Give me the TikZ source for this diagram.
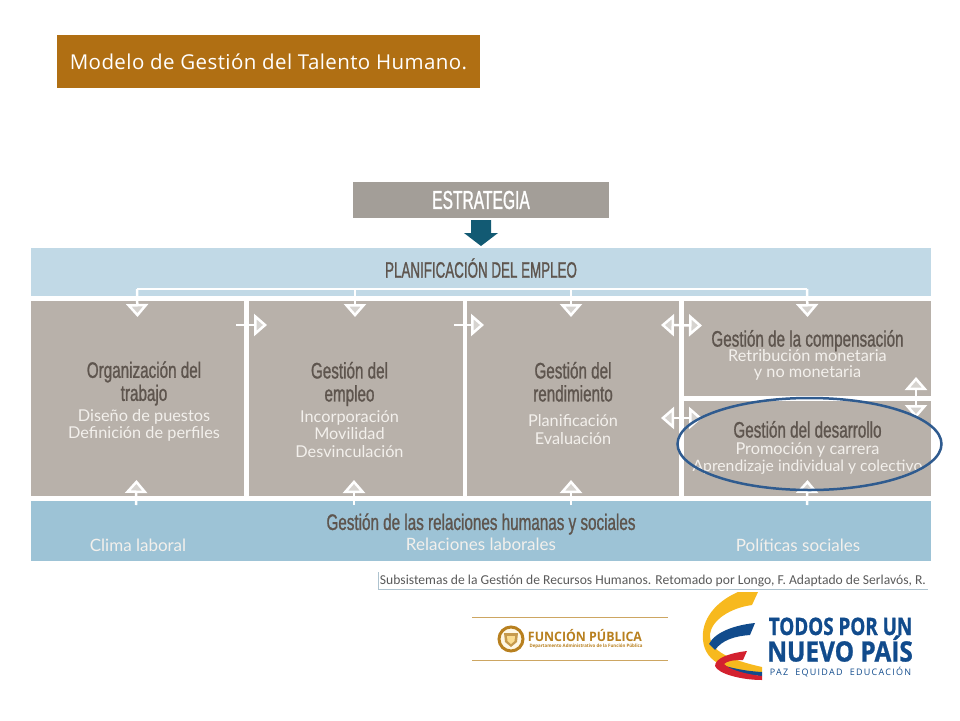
\documentclass[tikz,border=0pt]{standalone}
\usepackage{fontspec}
\usepackage{xcolor}
\usetikzlibrary{shapes.geometric, arrows.meta, positioning}
\newfontfamily\headfont[FakeStretch=0.68,FakeBold=1]{Liberation Sans}
\newfontfamily\capsfont[FakeStretch=0.6,FakeBold=1]{Liberation Sans}
\newfontfamily\bodyfont{Lato}
\newfontfamily\titlefont[LetterSpace=2]{Open Sans}
\newfontfamily\notefont{Carlito}
\newfontfamily\todosfont[FakeStretch=0.785,BoldFeatures={FakeBold=1}]{Open Sans}
\newfontfamily\nuevofont[FakeStretch=0.87,BoldFeatures={FakeBold=1}]{Open Sans}
\newfontfamily\funcfont[FakeStretch=0.95]{Open Sans}
\newfontfamily\sublogofont[LetterSpace=14]{Open Sans}
\newcommand{\headtext}[1]{\smash{\textcolor{headgrey}{\headfont\fontsize{22.4}{25}\selectfont #1}}}
\definecolor{titlebrown}{HTML}{B06F13}
\definecolor{strategygrey}{HTML}{A39E98}
\definecolor{boxgrey}{HTML}{B8B1AA}
\definecolor{planblue}{HTML}{C1D9E6}
\definecolor{relblue}{HTML}{9DC3D6}
\definecolor{headgrey}{HTML}{5E554E}
\definecolor{bodywhite}{HTML}{F3F0EC}
\definecolor{arrowteal}{HTML}{125A73}
\definecolor{tipgrey}{HTML}{D6D3CF}
\definecolor{ringblue}{HTML}{2F5B8F}
\definecolor{logoblue}{HTML}{114B8C}
\definecolor{logogold}{HTML}{B8801F}
\definecolor{logoyellow}{HTML}{F7B91E}
\definecolor{logored}{HTML}{D3212F}

\begin{document}
\begin{tikzpicture}[x=1pt, y=-1pt, node distance=5pt, outer sep=0pt]
	\tikzstyle{titlebox} = [rectangle, fill=titlebrown, text=white, minimum width=423pt, minimum height=53pt, font=\titlefont\fontsize{20.5}{22}\selectfont]
	\tikzstyle{strategybox} = [rectangle, fill=strategygrey, text=white, minimum width=256pt, minimum height=36pt]
	\tikzstyle{bandbox} = [rectangle, minimum width=900pt, align=center, inner sep=0pt]
	\tikzstyle{greybox} = [rectangle, fill=boxgrey, inner sep=0pt, minimum height=195pt]
	\tikzstyle{sidebox} = [greybox, minimum width=247pt, minimum height=95pt]
	\tikzstyle{boxtext} = [text=bodywhite, align=center, inner sep=0pt, font=\bodyfont\fontsize{16.3}{17.5}\selectfont]
	\tikzstyle{bandlabel} = [text=bodywhite, align=center, inner sep=0pt, font=\bodyfont\fontsize{17}{19}\selectfont]
	\tikzstyle{flowline} = [white, line width=2.5pt]
	\tikzstyle{flowtip} = [flowline, -{Triangle[width=22pt,length=13pt,fill=tipgrey,line width=2.5pt]}]
	\tikzstyle{flowboth} = [flowline, {Triangle[width=22pt,length=13pt,fill=tipgrey,line width=2.5pt]}-{Triangle[width=22pt,length=13pt,fill=tipgrey,line width=2.5pt]}]

	\useasboundingbox (0,0) rectangle (960,720);

	% Nodes
	\node (title) [titlebox] at (268.5,61.5) {Modelo de Gestión del Talento Humano.};
	\node (estrategia) [strategybox] at (481,200) {\capsfont\fontsize{26}{28}\selectfont ESTRATEGIA};
	\node (plan) [bandbox, fill=planblue, minimum height=48pt, text=headgrey] at (481,272) {\raisebox{8pt}{\capsfont\fontsize{22.3}{24}\selectfont PLANIFICACIÓN DEL EMPLEO}};

	\node (org) [greybox, minimum width=213pt, below=5pt of plan.south west, anchor=north west] {};
	\node (empleo) [greybox, minimum width=214pt, right=5pt of org] {};
	\node (rend) [greybox, minimum width=212pt, right=4pt of empleo] {};
	\node (comp) [sidebox, right=5pt of rend.north east, anchor=north west] {};
	\node (des) [sidebox, below=5pt of comp] {};
	\node (rel) [bandbox, fill=relblue, minimum height=60pt, below=5pt of org.south west, anchor=north west] {};

	% Box texts
	\node (orgtext) [boxtext] at ([shift={(6.5pt,-11.25pt)}]org.center) {\headtext{Organización del}\\[5.5pt] \headtext{trabajo}\\[3.5pt] Diseño de puestos\\[-0.5pt] Definición de perfiles};
	\node (emptext) [boxtext] at ([shift={(-6.5pt,-19.5pt)}]empleo.center) {\headtext{Gestión del}\\[5.5pt] \headtext{empleo}\\[3.5pt] Incorporación\\ Movilidad\\ Desvinculación};
	\node (rendtext) [boxtext] at ([yshift=-13pt]rend.center) {\headtext{Gestión del}\\[5.5pt] \headtext{rendimiento}\\[8pt] Planificación\\ Evaluación};
	\node (comptext) [boxtext] at ([yshift=-15pt]comp.center) {\headtext{Gestión de la compensación}\\[-2.5pt] Retribución monetaria\\[-1.5pt] y no monetaria};
	\node (destext) [boxtext] at ([yshift=-7.5pt]des.center) {\headtext{Gestión del desarrollo}\\[-0.5pt] Promoción y carrera\\[-0.5pt] {\fontsize{15.7}{17.5}\selectfont Aprendizaje individual y colectivo}};
	\node (reltext) [bandlabel] at ([yshift=-9.5pt]rel.center) {\headtext{Gestión de las relaciones humanas y sociales}\\[2pt] Relaciones laborales};
	\node (clima) [bandlabel] at (138,545) {Clima laboral};
	\node (politicas) [bandlabel] at (798,545) {Políticas sociales};

	\node (note) [font=\notefont\fontsize{13.6}{15}\selectfont, text=black!65, minimum width=550pt, minimum height=17pt, inner sep=0pt] at (653,580.5) {Subsistemas de la Gestión de Recursos Humanos. Retomado por Longo, F. Adaptado de Serlavós, R.};
	\draw [planblue!90!black] (note.north west) |- (note.south east);

	% Arrows
	\fill [arrowteal] ([xshift=-10pt,yshift=-2pt]estrategia.south) -- ([xshift=10pt,yshift=-2pt]estrategia.south) -- ([xshift=10pt,yshift=15pt]plan.north) -- ([xshift=17pt,yshift=15pt]plan.north) -- ([yshift=2pt]plan.north) -- ([xshift=-17pt,yshift=15pt]plan.north) -- ([xshift=-10pt,yshift=15pt]plan.north) -- cycle;

	\coordinate (busorg) at (137,289);
	\coordinate (busemp) at (355,289);
	\coordinate (busrend) at (571,289);
	\coordinate (buscomp) at (807,289);
	\draw [flowline] (busorg) -- (buscomp);
	\draw [flowtip] (busorg) -- ([yshift=-16pt]org.north);
	\draw [flowtip] (busemp) -- ([xshift=-1pt,yshift=-16pt]empleo.north);
	\draw [flowtip] (busrend) -- ([xshift=-2pt,yshift=-16pt]rend.north);
	\draw [flowtip] (buscomp) -- ([yshift=-16pt]comp.north);

	\draw [flowtip] ([shift={(-8pt,73.5pt)}]org.east) -- ([shift={(18pt,73.5pt)}]empleo.west);
	\draw [flowtip] ([shift={(-9pt,73.5pt)}]empleo.east) -- ([shift={(17pt,73.5pt)}]rend.west);
	\draw [flowboth] ([shift={(-18pt,73.5pt)}]rend.east) -- ([shift={(18pt,23pt)}]comp.west);
	\draw [flowboth] ([shift={(-18pt,-19.5pt)}]rend.east) -- ([xshift=18pt,yshift=30.5pt]des.west);
	\draw [flowboth] ([shift={(108.5pt,19pt)}]comp.south) -- ([shift={(108.5pt,-17pt)}]des.north);

	\coordinate (relorg) at (136,505);
	\coordinate (relemp) at (354,505);
	\coordinate (relrend) at (571,505);
	\coordinate (reldes) at (807,505);
	\draw [flowtip] (relorg) -- ([xshift=-1pt,yshift=16pt]org.south);
	\draw [flowtip] (relemp) -- ([xshift=-2pt,yshift=16pt]empleo.south);
	\draw [flowtip] (relrend) -- ([xshift=-2pt,yshift=16pt]rend.south);
	\draw [flowtip] (reldes) -- ([yshift=16pt]des.south);

	% Highlight
	\node (ring) [ellipse, draw=ringblue, line width=2.5pt, minimum width=264pt, minimum height=92pt, inner sep=0pt] at (809.5,444) {};

	% Logo Funcion Publica
	\draw [logogold!70] (472,617) -- (668,617);
	\draw [logogold!70] (472,660) -- (668,660);
	\node (seal) [circle, draw=logogold, line width=3pt, fill=logoyellow!12, minimum size=24pt, inner sep=0pt] at (511,639) {};
	\fill [logogold!80] (504,633) -- (518,633) -- (517,642) -- (511,647) -- (505,642) -- cycle;
	\fill [logoyellow!50] (507,636) -- (515,636) -- (514.5,641) -- (511,644) -- (507.5,641) -- cycle;
	\node (funcion) [text=logogold, font=\funcfont\bfseries\fontsize{13}{14}\selectfont, inner sep=0pt, text height=9.5pt, text depth=0pt] at (585,636.5) {FUNCIÓN PÚBLICA};
	\node (dept) [text=logogold, font=\funcfont\bfseries\fontsize{4.6}{5}\selectfont, inner sep=0pt, text height=3.5pt, text depth=0pt] at (586,646) {Departamento Administrativo de la Función Pública};

	% Logo Todos por un nuevo pais
	\fill [logoyellow] (738,592) -- (758,592) -- (752,605) .. controls (730,608) and (712,620) .. (710,634) .. controls (709,648) and (722,658) .. (762,667) -- (762,672) .. controls (730,672) and (705,664) .. (703,640) .. controls (701,620) and (715,602) .. (738,592) -- cycle;
	\fill [logoblue] (755,623) -- (750,635) .. controls (735,636) and (722,640) .. (715,650) -- (709,644) .. controls (715,632) and (735,625) .. (755,623) -- cycle;
	\fill [logoblue] (716,663) .. controls (730,668) and (745,671) .. (762,672) -- (762,676) .. controls (745,675) and (728,672) .. (716,667) -- cycle;
	\fill [logored] (747,651) -- (743,660) .. controls (733,660) and (727,661) .. (724,664) .. controls (730,670) and (745,674) .. (762,676) -- (762,680) .. controls (742,680) and (718,674) .. (715,666) .. controls (715,658) and (730,653) .. (747,651) -- cycle;
	\node (todos) [text=logoblue, font=\todosfont\bfseries\fontsize{24}{26}\selectfont, inner sep=0pt, text height=17pt, text depth=0pt] at (840.5,626.5) {TODOS POR UN};
	\node (nuevo) [text=logoblue, font=\nuevofont\bfseries\fontsize{28}{30}\selectfont, inner sep=0pt, text height=20pt, text depth=0pt] at (840,651.5) {NUEVO PAÍS};
	\node (paz) [text=logoblue, font=\sublogofont\fontsize{9}{10}\selectfont, inner sep=0pt, text height=6.5pt, text depth=0pt] at (840.5,672.5) {PAZ\ \ EQUIDAD\ \ EDUCACIÓN};
\end{tikzpicture}
\end{document}
